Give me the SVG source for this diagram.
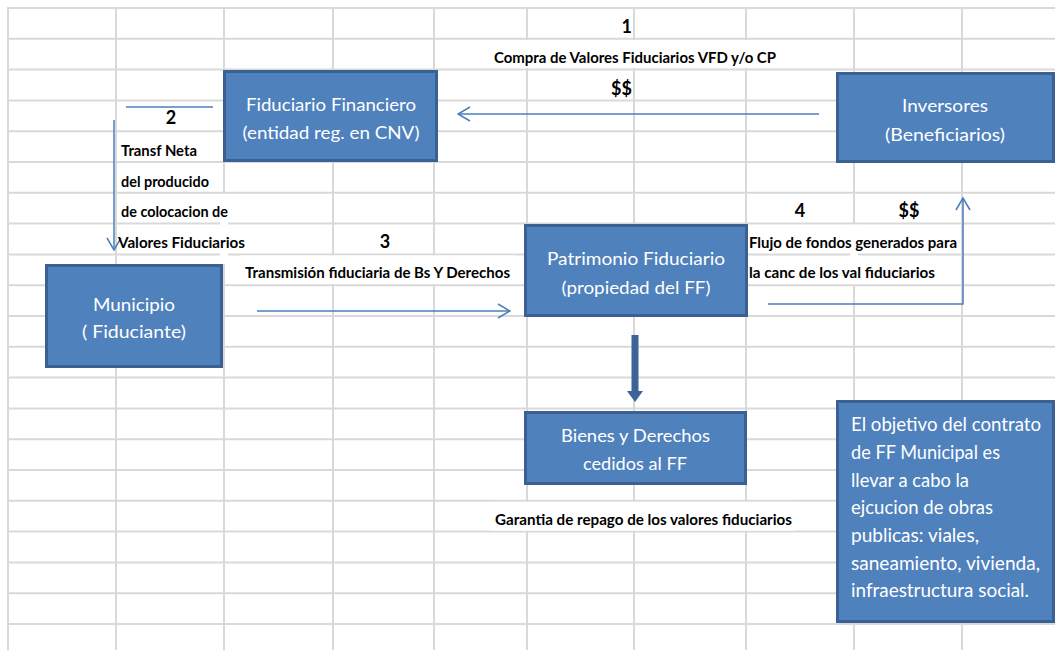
<svg xmlns="http://www.w3.org/2000/svg" width="1055" height="650" viewBox="0 0 1055 650">
  <style>
    .grid line { stroke: #d9d9d9; stroke-width: 2; }
    .cell { fill: #ffffff; }
    .box { fill: #4f81bd; stroke: #3b6092; stroke-width: 3; }
    .boxtext { font-family: Lato, "Liberation Sans", sans-serif; font-size: 18px; fill: #ffffff; text-anchor: middle; }
    .notetext { font-family: Lato, "Liberation Sans", sans-serif; font-size: 18.5px; fill: #ffffff; }
    .label { font-family: Lato, "Liberation Sans", sans-serif; font-size: 15px; font-weight: bold; fill: #000000; }
    .num { font-family: Lato, "Liberation Sans", sans-serif; font-size: 18px; font-weight: bold; fill: #000000; }
    .conn { stroke: #4a7ebb; stroke-width: 1.5; fill: none; }
  </style>
  <defs>
    <marker id="open" markerUnits="userSpaceOnUse" viewBox="0 0 14 16" markerWidth="14" markerHeight="16" refX="13" refY="8" orient="auto">
      <path d="M1,1 L13,8 L1,15" fill="none" stroke="#4a7ebb" stroke-width="1.5"/>
    </marker>
  </defs>

  <rect x="0" y="0" width="1055" height="650" fill="#ffffff"/>

  <!-- worksheet grid -->
  <g class="grid">
    <line x1="8" y1="8" x2="1055" y2="8"/>
    <line x1="8" y1="38.8" x2="1055" y2="38.8"/>
    <line x1="8" y1="69.6" x2="1055" y2="69.6"/>
    <line x1="8" y1="100.4" x2="1055" y2="100.4"/>
    <line x1="8" y1="131.2" x2="1055" y2="131.2"/>
    <line x1="8" y1="162" x2="1055" y2="162"/>
    <line x1="8" y1="192.8" x2="1055" y2="192.8"/>
    <line x1="8" y1="223.6" x2="1055" y2="223.6"/>
    <line x1="8" y1="254.4" x2="1055" y2="254.4"/>
    <line x1="8" y1="285.2" x2="1055" y2="285.2"/>
    <line x1="8" y1="316" x2="1055" y2="316"/>
    <line x1="8" y1="346.8" x2="1055" y2="346.8"/>
    <line x1="8" y1="377.6" x2="1055" y2="377.6"/>
    <line x1="8" y1="408.4" x2="1055" y2="408.4"/>
    <line x1="8" y1="439.2" x2="1055" y2="439.2"/>
    <line x1="8" y1="470" x2="1055" y2="470"/>
    <line x1="8" y1="500.8" x2="1055" y2="500.8"/>
    <line x1="8" y1="531.6" x2="1055" y2="531.6"/>
    <line x1="8" y1="562.4" x2="1055" y2="562.4"/>
    <line x1="8" y1="593.2" x2="1055" y2="593.2"/>
    <line x1="8" y1="624" x2="1055" y2="624"/>
    <line x1="8" y1="7" x2="8" y2="650"/>
    <line x1="116" y1="7" x2="116" y2="650"/>
    <line x1="224" y1="7" x2="224" y2="650"/>
    <line x1="333" y1="7" x2="333" y2="650"/>
    <line x1="434" y1="7" x2="434" y2="650"/>
    <line x1="527" y1="7" x2="527" y2="650"/>
    <line x1="634" y1="7" x2="634" y2="650"/>
    <line x1="746" y1="7" x2="746" y2="650"/>
    <line x1="854" y1="7" x2="854" y2="650"/>
    <line x1="962" y1="7" x2="962" y2="650"/>
  </g>

  <!-- cells whose text spills over neighbouring columns -->
  <g id="overflow-cells">
    <rect class="cell" x="490" y="40" width="290" height="28"/>
    <rect class="cell" x="220" y="194" width="8" height="70"/>
    <rect class="cell" x="240" y="255.5" width="275" height="28.5"/>
    <rect class="cell" x="850" y="224.6" width="8" height="59.6"/>
    <rect class="cell" x="490" y="501.8" width="305" height="28.8"/>
  </g>

  <!-- connectors -->
  <g id="connectors">
    <line class="conn" x1="819" y1="114" x2="458" y2="114" marker-end="url(#open)"/>
    <line class="conn" x1="126" y1="107" x2="213" y2="107"/>
    <line class="conn" x1="114" y1="120" x2="114" y2="250" marker-end="url(#open)"/>
    <line class="conn" x1="257" y1="311" x2="510" y2="311" marker-end="url(#open)"/>
    <polyline class="conn" points="768,304 963,304 963,198" marker-end="url(#open)"/>
    <polygon points="631.5,335 638.5,335 638.5,391 643,391 635,402 627,391 631.5,391" fill="#3c6497"/>
  </g>

  <!-- labels -->
  <g id="labels">
    <text class="num" x="632" y="33" text-anchor="end">1</text>
    <text class="label" x="494" y="63" textLength="282" lengthAdjust="spacingAndGlyphs">Compra de Valores Fiduciarios VFD y/o CP</text>
    <text class="num" x="632" y="95" text-anchor="end">$$</text>
    <text class="num" x="171" y="124" text-anchor="middle">2</text>
    <text class="label" x="121" y="156" textLength="76" lengthAdjust="spacingAndGlyphs">Transf Neta</text>
    <text class="label" x="121" y="187" textLength="88" lengthAdjust="spacingAndGlyphs">del producido</text>
    <text class="label" x="121" y="217" textLength="107" lengthAdjust="spacingAndGlyphs">de colocacion de</text>
    <text class="label" x="118" y="248" textLength="127" lengthAdjust="spacingAndGlyphs">Valores Fiduciarios</text>
    <text class="num" x="385" y="248" text-anchor="middle">3</text>
    <text class="label" x="245" y="278" textLength="265" lengthAdjust="spacingAndGlyphs">Transmisión fiduciaria de Bs Y Derechos</text>
    <text class="num" x="800" y="217" text-anchor="middle">4</text>
    <text class="num" x="909" y="217" text-anchor="middle">$$</text>
    <text class="label" x="749" y="248" textLength="208" lengthAdjust="spacingAndGlyphs">Flujo de fondos generados para</text>
    <text class="label" x="749" y="278" textLength="186" lengthAdjust="spacingAndGlyphs">la canc de los val fiduciarios</text>
    <text class="label" x="495" y="525" textLength="297" lengthAdjust="spacingAndGlyphs">Garantia de repago de los valores fiduciarios</text>
  </g>

  <!-- nodes -->
  <g id="fiduciario">
    <rect class="box" x="224.5" y="71.5" width="212" height="89"/>
    <text class="boxtext" x="331" y="111" textLength="170" lengthAdjust="spacingAndGlyphs">Fiduciario Financiero</text>
    <text class="boxtext" x="331" y="139" textLength="177" lengthAdjust="spacingAndGlyphs">(entidad reg. en CNV)</text>
  </g>

  <g id="inversores">
    <rect class="box" x="837.5" y="73.5" width="216" height="88"/>
    <text class="boxtext" x="945" y="112" textLength="86" lengthAdjust="spacingAndGlyphs">Inversores</text>
    <text class="boxtext" x="945" y="141" textLength="120" lengthAdjust="spacingAndGlyphs">(Beneficiarios)</text>
  </g>

  <g id="municipio">
    <rect class="box" x="46.5" y="265.5" width="175" height="101"/>
    <text class="boxtext" x="134" y="311" textLength="82" lengthAdjust="spacingAndGlyphs">Municipio</text>
    <text class="boxtext" x="134" y="338" textLength="104" lengthAdjust="spacingAndGlyphs">( Fiduciante)</text>
  </g>

  <g id="patrimonio">
    <rect class="box" x="525.5" y="225.5" width="221" height="90"/>
    <text class="boxtext" x="636" y="265" textLength="178" lengthAdjust="spacingAndGlyphs">Patrimonio Fiduciario</text>
    <text class="boxtext" x="636" y="294" textLength="149" lengthAdjust="spacingAndGlyphs">(propiedad del FF)</text>
  </g>

  <g id="bienes">
    <rect class="box" x="525.5" y="412.5" width="220" height="71"/>
    <text class="boxtext" x="635.5" y="442" textLength="149" lengthAdjust="spacingAndGlyphs">Bienes y Derechos</text>
    <text class="boxtext" x="635" y="470" textLength="104" lengthAdjust="spacingAndGlyphs">cedidos al FF</text>
  </g>

  <g id="objetivo">
    <rect class="box" x="837.5" y="401.5" width="216" height="220"/>
    <text class="notetext" x="851" y="431" textLength="190" lengthAdjust="spacingAndGlyphs">El objetivo del contrato</text>
    <text class="notetext" x="851" y="459" textLength="149" lengthAdjust="spacingAndGlyphs">de FF Municipal es</text>
    <text class="notetext" x="851" y="487" textLength="118" lengthAdjust="spacingAndGlyphs">llevar a cabo la</text>
    <text class="notetext" x="851" y="514" textLength="142" lengthAdjust="spacingAndGlyphs">ejcucion de obras</text>
    <text class="notetext" x="851" y="542" textLength="128" lengthAdjust="spacingAndGlyphs">publicas: viales,</text>
    <text class="notetext" x="851" y="570" textLength="189" lengthAdjust="spacingAndGlyphs">saneamiento, vivienda,</text>
    <text class="notetext" x="851" y="597" textLength="178" lengthAdjust="spacingAndGlyphs">infraestructura social.</text>
  </g>
</svg>
